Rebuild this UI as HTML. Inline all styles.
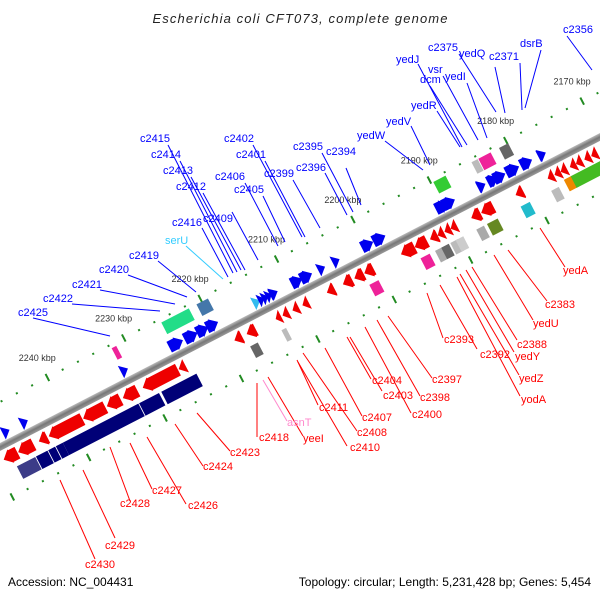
<!DOCTYPE html>
<html><head><meta charset="utf-8"><style>
html,body{margin:0;padding:0;background:#fff}
svg{display:block;font-family:"Liberation Sans","DejaVu Sans",sans-serif}
</style></head><body>
<svg id="chart" width="600" height="600" viewBox="0 0 600 600" xmlns="http://www.w3.org/2000/svg">
<defs>
<linearGradient id="bb" x1="0" y1="0" x2="0" y2="1"><stop offset="0" stop-color="#bbb"/><stop offset="0.5" stop-color="#777"/><stop offset="1" stop-color="#999"/></linearGradient>
</defs>
<text x="300" y="23" text-anchor="middle" font-size="13" font-style="italic" fill="#222" textLength="295">Escherichia coli CFT073, complete genome</text>
<g id="labels"></g>
<g id="track" transform="translate(0,447) rotate(-27.33)"></g>
<text x="8" y="586" font-size="12" fill="#000">Accession: NC_004431</text>
<text x="591" y="586" font-size="12" fill="#000" text-anchor="end">Topology: circular; Length: 5,231,428 bp; Genes: 5,454</text>
</svg>
<script>
// ---- data ----
const tickKbp = [2170,2180,2190,2200,2210,2220,2230,2240];
const blueStart = [2247.6,2245.2,2232.1,2225.8,2223.8,2222.2,2220.9,2214.8,2214.1,2213.6,2213.1,2212.6,2209.8,2208.6,2206.3,2204.4,2200.6,2199.1,2190.9,2190.0,2185.4,2184.1,2183.3,2181.7,2179.8,2177.5];
const blueEnd   = [2246.7,2244.3,2231.2,2224.0,2222.1,2220.7,2219.4,2213.9,2213.4,2212.9,2212.4,2211.6,2208.4,2207.1,2205.4,2203.5,2199.1,2197.5,2189.3,2188.4,2184.4,2182.8,2181.8,2180.0,2178.3,2176.5];
const redStart = [2248.9,2247.0,2244.3,2243.0,2238.5,2235.4,2233.3,2230.7,2226.0,2218.7,2217.1,2213.3,2212.4,2211.1,2209.8,2206.6,2204.5,2203.0,2201.7,2196.9,2195.1,2193.1,2192.1,2191.2,2190.4,2187.7,2186.4,2181.9,2177.7,2176.8,2176.0,2174.8,2174.0,2172.9,2172.0];
const redEnd   = [2247.1,2245.0,2243.2,2238.6,2235.6,2233.6,2231.4,2226.1,2225.1,2217.7,2215.9,2212.6,2211.6,2210.3,2209.0,2205.6,2203.3,2201.8,2200.5,2195.1,2193.5,2192.1,2191.3,2190.4,2189.6,2186.5,2184.8,2180.9,2176.9,2176.0,2175.2,2174.0,2173.2,2172.1,2171.2];
const miscAboveStart = [2225.3,2220.7,2231.8,2189.7,2184.7,2183.8,2181.1,2215.2];
const miscAboveEnd   = [2221.7,2219.2,2231.2,2188.1,2183.9,2182.2,2179.9,2214.3];
const miscAboveColor = ["#22dd88","#4477aa","#ee2299","#33cc33","#bbbbbb","#ee2299","#666666","#33bbee"];
const miscBelowStart = [2217.4,2213.3,2201.8,2195.1,2193.2,2192.4,2191.2,2190.5,2187.8,2186.4,2182.0,2178.0,2176.1,2175.2];
const miscBelowEnd   = [2216.4,2212.7,2200.6,2193.9,2192.4,2191.4,2190.2,2189.5,2186.8,2185.0,2180.8,2177.0,2175.1,2170.5];
const miscBelowColor = ["#666666","#bbbbbb","#ee2299","#ee2299","#aaaaaa","#666666","#bbbbbb","#cccccc","#aaaaaa","#668822","#22bbcc","#bbbbbb","#ee8800","#44bb22"];
const navyStart = [2247.9,2245.4,2243.8,2242.8,2241.9,2231.9,2229.0];
const navyEnd   = [2245.5,2243.9,2242.9,2241.9,2232.0,2229.3,2224.4];
const navyColor = ["#3c3c88","#000077","#000077","#000077","#000077","#000077","#000077"];

// ---- axis ----
const K0 = 2190, U0 = 504, PX = 8.6;
function u(kbp){ return U0 - (kbp - K0) * PX; }
const NS='http://www.w3.org/2000/svg';
const track=document.getElementById('track');
function mk(tag, attrs, parent){ const e=document.createElementNS(NS,tag); for(const k in attrs) e.setAttribute(k,attrs[k]); (parent||track).appendChild(e); return e; }

// backbone
const bbEl=mk('rect',{x:-20,y:-3.5,width:760,height:7,fill:'url(#bb)'});



// tick rows
for(let k=2166;k<=2252;k+=2){
  [-40,50].forEach(v=>{
    let d;
    if(k%10===0){ d=mk('rect',{x:u(k)-1,y:v-4,width:2,height:8,fill:'#228b22'}); }
    else { d=mk('rect',{x:u(k)-1,y:v-1,width:2,height:2,fill:'#228b22'}); }
    
    
  });
}
// tick labels (unrotated)
const labelsG=document.getElementById('labels');
const C=Math.cos(27.33*Math.PI/180), S=Math.sin(27.33*Math.PI/180);
function scr(uu,v){ return [uu*C+v*S, 447-uu*S+v*C]; }
tickKbp.forEach(k=>{
  const p=scr(u(k),-62);
  const t=mk('text',{x:p[0],y:p[1]+3,'font-size':9,'text-anchor':'middle',fill:'#333'},labelsG);
  t.textContent=k+' kbp';
  
  
});

function arrow(s,e,vc,h,color,dir){
  const a=u(s), b=u(e); const lo=Math.min(a,b), hi=Math.max(a,b); const len=hi-lo;
  const head=Math.min(len, 8);
  let pts;
  if(dir>0){ pts=[[lo,vc-h/2],[hi-head,vc-h/2],[hi-head,vc-h/2-1],[hi,vc],[hi-head,vc+h/2+1],[hi-head,vc+h/2],[lo,vc+h/2]]; if(head>=len) pts=[[lo,vc-h/2-1],[hi,vc],[lo,vc+h/2+1]]; }
  else { pts=[[hi,vc-h/2],[lo+head,vc-h/2],[lo+head,vc-h/2-1],[lo,vc],[lo+head,vc+h/2+1],[lo+head,vc+h/2],[hi,vc+h/2]]; if(head>=len) pts=[[hi,vc-h/2-1],[lo,vc],[hi,vc+h/2+1]]; }
  return mk('polygon',{points:pts.map(p=>p.join(',')).join(' '),fill:color});
}
function box(s,e,vc,h,color){
  const a=u(s), b=u(e);
  return mk('rect',{x:Math.min(a,b),y:vc-h/2,width:Math.abs(a-b),height:h,fill:color});
}
blueStart.forEach((s,i)=>{
  const el=arrow(s,blueEnd[i],-11,12,i===7?'#33bbee':'#0000ee',1);
  
  
});
redStart.forEach((s,i)=>{
  const el=arrow(s,redEnd[i],13,13,'#ee0000',-1);
  
  
});
miscAboveStart.forEach((s,i)=>{
  if(i===7) return;
  const el=box(s,miscAboveEnd[i],-30,13,miscAboveColor[i]);
  
  
});
miscBelowStart.forEach((s,i)=>{
  const el=box(s,miscBelowEnd[i],i>=12?28:32,13,miscBelowColor[i]);
  
  
});
navyStart.forEach((s,i)=>{
  const el=box(s,navyEnd[i],32,14,navyColor[i]);
  
  
});

// gene labels: [text, x, y, lineX1, lineY1, lineX2, lineY2, color]
const B='#0000ff', R='#ff0000';
const ann=[
["c2356",563,33,567,36,592,70,B],["dsrB",520,47,541,50,525,108,B],["c2371",489,60,520,63,522,110,B],
["c2375",428,51,459,54,496,112,B],["yedQ",459,57,495,67,505,113,B],["yedJ",396,63,418,64,462,147,B],
["vsr",428,73,443,76,478,140,B],["dcm",420,83,430,86,467,145,B],["yedI",445,80,467,83,487,138,B],
["yedR",411,109,437,111,460,147,B],["yedV",386,125,411,126,430,165,B],["yedW",357,139,385,141,423,170,B],
["c2394",326,155,346,168,361,205,B],["c2395",293,150,322,153,353,212,B],["c2396",296,171,325,173,347,215,B],
["c2399",264,177,293,180,320,228,B],["c2401",236,158,265,161,305,237,B],["c2402",224,142,253,145,302,237,B],
["c2405",234,193,263,196,285,242,B],["c2406",215,180,245,183,278,246,B],["c2409",203,222,232,212,258,260,B],
["c2412",176,190,203,193,245,270,B],["c2413",163,174,191,177,241,270,B],["c2414",151,158,180,161,237,272,B],
["c2415",140,142,168,145,233,273,B],["c2416",172,226,202,228,228,277,B],["serU",165,244,186,246,223,279,'#33ccff'],
["c2419",129,259,158,261,196,292,B],["c2420",99,273,128,275,187,297,B],["c2421",72,288,100,290,175,304,B],
["c2422",43,302,72,304,160,311,B],["c2425",18,316,33,318,110,336,B],
["yedA",563,274,540,228,565,267,R],["c2383",545,308,508,250,547,301,R],["yedU",533,327,494,255,533,320,R],
["c2388",517,348,472,267,517,340,R],["yedY",515,360,466,270,514,352,R],["yedZ",519,382,460,274,519,375,R],
["yodA",521,403,457,277,520,396,R],["c2392",480,358,440,285,477,349,R],["c2393",444,343,427,293,443,338,R],
["c2397",432,383,388,316,432,378,R],["c2398",420,401,377,320,420,396,R],["c2400",412,418,365,327,411,413,R],
["c2403",383,399,350,337,382,391,R],["c2404",372,384,347,337,371,379,R],["c2407",362,421,325,348,362,416,R],
["c2408",357,436,303,353,357,431,R],["c2410",350,451,298,362,347,446,R],["c2411",319,411,297,360,318,405,R],
["yeeI",303,442,268,377,303,436,R],["asnT",287,426,263,380,287,421,'#ff88cc'],["c2418",259,441,257,383,257,437,R],
["c2423",230,456,197,413,230,451,R],["c2424",203,470,175,424,203,466,R],["c2426",188,509,147,437,186,504,R],
["c2427",152,494,130,443,152,489,R],["c2428",120,507,110,447,130,501,R],["c2429",105,549,83,470,115,538,R],
["c2430",85,568,60,480,95,559,R]
];
ann.forEach(a=>{
  const ln=mk('line',{x1:a[3],y1:a[4],x2:a[5],y2:a[6],stroke:a[7],'stroke-width':1},labelsG);
  
  
  const t=mk('text',{x:a[1],y:a[2],'font-size':11,fill:a[7]},labelsG);
  t.textContent=a[0];
  
  
});
</script>
</body></html>
